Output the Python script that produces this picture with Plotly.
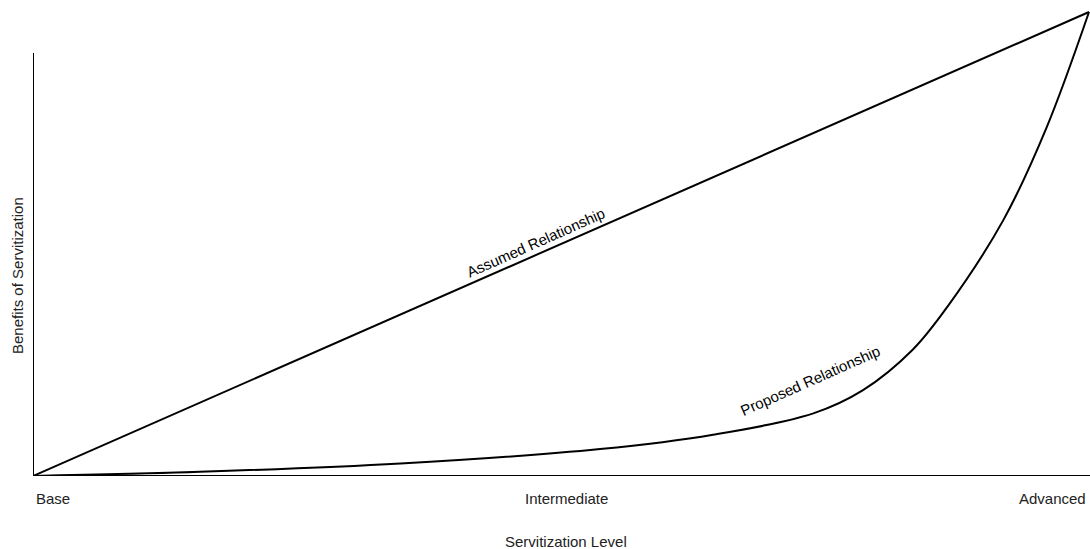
import plotly.graph_objects as go

# Data (normalized 0-100 scales)
assumed_x = [0, 100]
assumed_y = [0, 100]

proposed_x = [0, 15.8, 34.8, 53.7, 64.4, 73.9, 78.6, 83.3, 86.6, 91.9, 96.0, 100]
proposed_y = [0, 0.9, 2.7, 5.8, 8.9, 13.5, 18.5, 27.2, 36.5, 55.2, 75.2, 100]

tick_vals = [0, 50, 100]
tick_labels = ["Base", "Intermediate", "Advanced"]

FONT = "Liberation Sans, Arial, sans-serif"
FS = 15

fig = go.Figure()
fig.add_trace(go.Scatter(x=assumed_x, y=assumed_y, mode="lines",
                         line=dict(color="black", width=2), hoverinfo="skip"))
fig.add_trace(go.Scatter(x=proposed_x, y=proposed_y, mode="lines",
                         line=dict(color="black", width=2, shape="spline", smoothing=1.0),
                         hoverinfo="skip"))

W, H = 1090, 549
L, R, T, B = 33, 0, 8, 73
pw = W - L - R
ph = H - T - B

fig.update_layout(
    width=W, height=H,
    margin=dict(l=L, r=R, t=T, b=B),
    paper_bgcolor="white", plot_bgcolor="white",
    showlegend=False,
    font=dict(family=FONT, size=FS, color="black"),
    xaxis=dict(range=[0, 100 * pw / 1056], visible=False, fixedrange=True),
    yaxis=dict(range=[0, 100 * ph / 464], visible=False, fixedrange=True),
)

# axis lines
fig.add_shape(type="line", xref="paper", yref="y", x0=0, x1=1, y0=0, y1=0,
              line=dict(color="black", width=2))
fig.add_shape(type="line", xref="x", yref="paper", x0=0, x1=0, y0=0, y1=(476 - 53) / ph,
              line=dict(color="black", width=2))

# tick labels
anchors = ["left", "center", "right"]
shifts = [1, 5, -1]
for v, lab, a, s in zip(tick_vals, tick_labels, anchors, shifts):
    fig.add_annotation(x=v, y=0, xref="x", yref="y", text=lab, showarrow=False,
                       xanchor=a, yanchor="middle", yshift=-22, xshift=s,
                       font=dict(family=FONT, size=FS, color="#222"))

# axis titles
fig.add_annotation(x=50, y=0, xref="x", yref="y", text="Servitization Level", showarrow=False,
                   xanchor="center", yanchor="middle", yshift=-65, xshift=5,
                   font=dict(family=FONT, size=FS, color="#222"))
fig.add_annotation(x=0, y=(476 - 276) / 464 * 100, xref="x", yref="y",
                   text="Benefits of Servitization", showarrow=False, textangle=-90,
                   xanchor="center", yanchor="middle", xshift=-16,
                   font=dict(family=FONT, size=FS, color="#222"))

# curve labels
fig.add_annotation(x=47.6, y=50.4, xref="x", yref="y", text="Assumed Relationship",
                   showarrow=False, textangle=-24, font=dict(family=FONT, size=FS, color="black"))
fig.add_annotation(x=73.6, y=20.5, xref="x", yref="y", text="Proposed Relationship",
                   showarrow=False, textangle=-24, font=dict(family=FONT, size=FS, color="black"))

fig.write_html("out.html", config={"displayModeBar": False},
               post_script="document.body.style.margin='0';document.body.style.overflow='hidden';")
